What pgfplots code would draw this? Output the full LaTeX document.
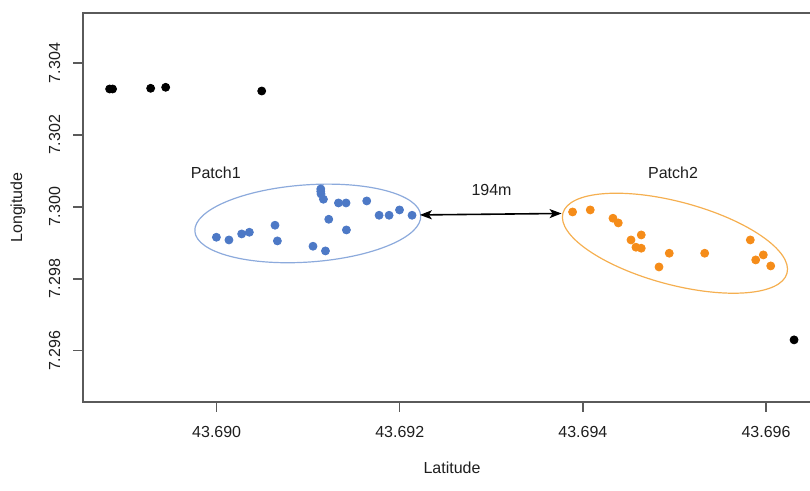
\documentclass[border=0pt]{standalone}
\usepackage{pgfplots}
\pgfplotsset{compat=1.18}
\usetikzlibrary{arrows.meta}
\usepackage{fontspec}
\setmainfont{Liberation Sans}
\definecolor{bluept}{RGB}{77,121,198}
\definecolor{blueell}{RGB}{140,170,220}
\definecolor{orangept}{RGB}{245,140,25}
\definecolor{orangeell}{RGB}{245,175,80}
\definecolor{frame}{RGB}{90,90,90}
\definecolor{txt}{RGB}{30,30,30}
\begin{document}
\begin{tikzpicture}
\fontsize{8}{9.6}\selectfont
\begin{axis}[
  scale only axis,
  width=369pt, height=194.5pt,
  xmin=43.68854, xmax=43.6966,
  ymin=7.29458, ymax=7.30539,
  axis line style={frame, line width=0.8pt},
  tick style={frame, line width=0.6pt},
  tick align=outside, major tick length=5pt,
  tick pos=left,
  xtick={43.690,43.692,43.694,43.696},
  xticklabels={43.690,43.692,43.694,43.696},
  ytick={7.296,7.298,7.300,7.302,7.304},
  yticklabels={7.296,7.298,7.300,7.302,7.304},
  xticklabel style={font=\fontsize{8}{9.6}\selectfont, text=txt, yshift=-4.5pt},
  yticklabel style={font=\fontsize{8}{9.6}\selectfont, text=txt, rotate=90, anchor=south, yshift=3.5pt},
  xlabel={Latitude}, ylabel={Longitude},
  xlabel style={font=\fontsize{8}{9.6}\selectfont, text=txt, at={(axis description cs:0.5,0)}, anchor=center, yshift=-33pt},
  ylabel style={font=\fontsize{8}{9.6}\selectfont, text=txt, at={(axis description cs:0,0.5)}, anchor=center, yshift=32.5pt},
  clip=false,
]
\addplot[only marks, mark=*, mark size=2pt, color=black] coordinates {
(43.688831,7.303278) (43.688863,7.303278) (43.689279,7.303297)
(43.689443,7.303325) (43.690492,7.303222) (43.696306,7.296306)};
\addplot[only marks, mark=*, mark size=2pt, color=bluept] coordinates {
(43.689997,7.299158) (43.690134,7.299083) (43.690273,7.299250)
(43.690357,7.299297) (43.690637,7.299492) (43.690663,7.299056)
(43.691052,7.298908) (43.691188,7.298778) (43.691137,7.300500)
(43.691137,7.300431) (43.691140,7.300361) (43.691166,7.300214)
(43.691224,7.299658) (43.691330,7.300111) (43.691413,7.300111)
(43.691417,7.299361) (43.691639,7.300167) (43.691774,7.299769)
(43.691883,7.299769) (43.691997,7.299917) (43.692134,7.299769)};
\addplot[only marks, mark=*, mark size=2pt, color=orangept] coordinates {
(43.693887,7.299861) (43.694080,7.299917) (43.694328,7.299686)
(43.694386,7.299556) (43.694525,7.299083) (43.694637,7.299222)
(43.694579,7.298881) (43.694637,7.298853) (43.694943,7.298714)
(43.694831,7.298333) (43.695330,7.298714) (43.695828,7.299083)
(43.695887,7.298528) (43.695970,7.298667) (43.696051,7.298361)};
\draw[blueell, line width=0.6pt, rotate around={4:(axis cs:43.690995,7.299542)}]
  (axis cs:43.690995,7.299542) ellipse [x radius=56.6pt, y radius=19.3pt];
\draw[orangeell, line width=0.6pt, rotate around={-15:(axis cs:43.695005,7.298992)}]
  (axis cs:43.695005,7.298992) ellipse [x radius=58pt, y radius=20.7pt];
\draw[black, line width=0.8pt, {Stealth[length=6pt,width=4.5pt,inset=1.5pt]}-{Stealth[length=6pt,width=4.5pt,inset=1.5pt]}] (axis cs:43.692219,7.299778) -- (axis cs:43.693767,7.299819);
\node[text=txt] at (axis cs:43.68999,7.300953) {Patch1};
\node[text=txt] at (axis cs:43.694984,7.300953) {Patch2};
\node[text=txt] at (axis cs:43.693002,7.300472) {194m};
\coordinate (bl) at (rel axis cs:0,0);
\end{axis}
\pgfresetboundingbox
\useasboundingbox ([shift={(-41.5pt,-44.5pt)}]bl) rectangle ([shift={(363.5pt,201pt)}]bl);
\end{tikzpicture}
\end{document}
